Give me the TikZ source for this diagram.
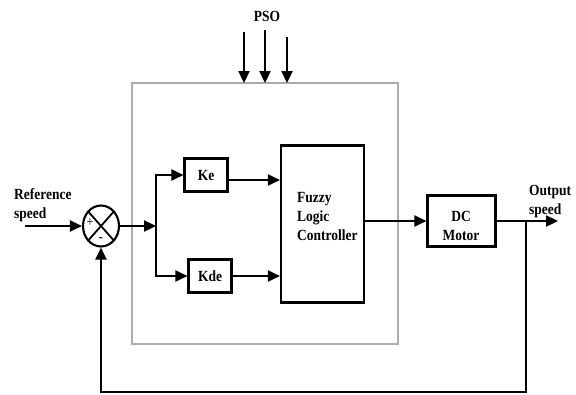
\documentclass[tikz,border=0pt]{standalone}
\usepackage{fontspec}
\setmainfont{Liberation Serif}[FakeStretch=0.87]
\usetikzlibrary{arrows.meta,shapes.geometric}
\begin{document}
\begin{tikzpicture}[x=1pt,y=-1pt,
  arr/.style={line width=2.3pt,-{Triangle[length=12pt,width=11pt]}},
  blk/.style={draw,line width=2.1pt,inner sep=0pt},
  lbl/.style={font=\fontsize{15.5}{19}\selectfont\bfseries,inner sep=0pt},
  frame/.style={draw=gray!65,line width=1.3pt}]
\useasboundingbox (0,0) rectangle (576,394);
% outer PSO frame
\draw[frame] (132,83) rectangle (398,344);
% blocks
\node[blk,minimum width=43pt,minimum height=33pt] (ke) at (206,175) {};
\node[lbl] at (ke.center) {Ke};
\node[blk,minimum width=43pt,minimum height=33pt] (kde) at (210,276) {};
\node[lbl] at (kde.center) {Kde};
\node[blk,minimum width=83pt,minimum height=157pt] (flc) at (322.5,224) {};
\node[lbl,align=left,anchor=west] at (297,216) {Fuzzy\\Logic\\Controller};
\node[blk,minimum width=68pt,minimum height=51pt] (dc) at (461.5,221) {};
\node[lbl,align=center] at (461,226) {DC\\Motor};
% summing junction
\node[draw,ellipse,line width=2.1pt,minimum width=36pt,minimum height=41pt,inner sep=0pt] (sum) at (101,226) {};
\draw[line width=1.8pt] (sum.north west) -- (sum.south east) (sum.north east) -- (sum.south west);
\node[font=\fontsize{14}{14}\selectfont,inner sep=0pt] at (90,223) {+};
\node[font=\fontsize{14}{14}\selectfont\bfseries,inner sep=0pt] at (101,240) {-};
% labels
\node[lbl,align=left,anchor=west] (ref) at (14,205) {Reference\\speed};
\node[lbl,align=left,anchor=west] (out) at (529,202) {Output\\speed};
\node[lbl] (pso) at (267,16) {PSO};
% coordinates
\coordinate (in) at (25,226);
\coordinate (br) at (156,226);
\coordinate (tap) at (526,221);
\coordinate (yend) at (558,221);
\coordinate (p1) at (244,32);
\coordinate (p2) at (265,30);
\coordinate (p3) at (287,37);
% connectors
\draw[arr] (in) -- (sum.west);
\draw[arr] (sum.east) -- (br);
\draw[arr] (br) |- (ke.west);
\draw[arr] (br) |- (kde.west);
\draw[arr] (ke.east |- 0,180) -- (flc.west |- 0,180);
\draw[arr] (kde.east) -- (flc.west |- kde.east);
\draw[arr] (flc.east |- dc.west) -- (dc.west);
\draw[arr] (dc.east) -- (yend);
\draw[arr] (tap) -- (526,392) -- (101,392) -- (sum.south);
\draw[arr] (p1) -- (244,83);
\draw[arr] (p2) -- (265,83);
\draw[arr] (p3) -- (287,83);
\end{tikzpicture}
\end{document}
